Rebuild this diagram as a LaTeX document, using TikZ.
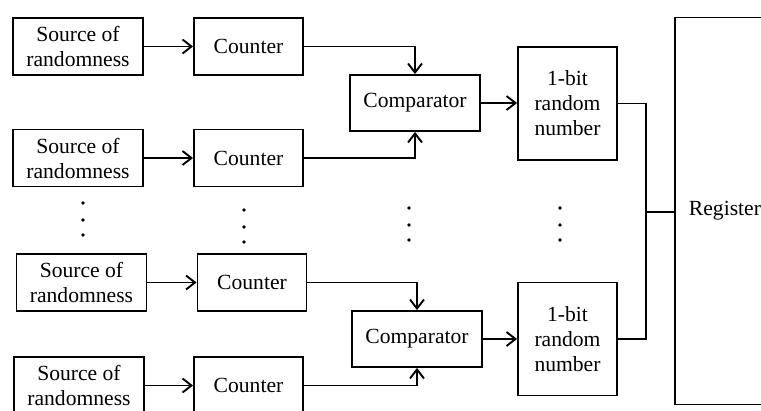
\documentclass[tikz,border=0pt]{standalone}
\usepackage{fontspec}
\setmainfont{Liberation Serif}
\usetikzlibrary{arrows.meta}
\tikzset{
    block-box/.style = {draw, line width=1.9pt, rectangle, align=center, inner sep=0pt, minimum height=57pt, font=\fontsize{21.6pt}{25pt}\selectfont},
    source-box/.style = {block-box, minimum width=130pt},
    counter-box/.style = {block-box, minimum width=109pt},
    comparator-box/.style = {block-box, minimum width=130pt, minimum height=56pt},
    bit-box/.style = {block-box, minimum width=99pt, minimum height=113pt},
    register-box/.style = {block-box, minimum width=130pt, minimum height=387pt, inner xsep=14pt, text width=102pt, align=left, anchor=west},
    wire/.style = {line width=1.9pt},
    arrow-line/.style = {wire, -{Straight Barb[length=9pt, width=14pt, line width=1.9pt]}},
}
\begin{document}
\begin{tikzpicture}[x=1pt, y=-1pt]
\useasboundingbox (0,0) rectangle (761,410);
\node[source-box] (src1) at (78,46.5) {Source of\\randomness};
\node[source-box] (src2) at (78,158) {Source of\\randomness};
\node[source-box] (src3) at (81.5,282.5) {Source of\\randomness};
\node[source-box] (src4) at (79,385.5) {Source of\\randomness};
\node[counter-box] (cnt1) at (248.5,46.5) {Counter};
\node[counter-box] (cnt2) at (248.5,158) {Counter};
\node[counter-box] (cnt3) at (252,282.5) {Counter};
\node[counter-box] (cnt4) at (248.5,385.5) {Counter};
\node[comparator-box] (cmp1) at (415,103) {Comparator};
\node[comparator-box] (cmp2) at (417,339) {Comparator};
\node[bit-box] (bit1) at (567.5,103.5) {1-bit\\random\\number};
\node[bit-box] (bit2) at (567.5,339) {1-bit\\random\\number};
\node[register-box] (reg) at (674,211) {Register};
\coordinate (join) at (646,212);
\foreach \i in {1,...,4}
    \draw[arrow-line] (src\i.east) -- (src\i.east -| cnt\i.west);
\draw[arrow-line] (cnt1.east) -| (cmp1.north);
\draw[arrow-line] (cnt2.east) -| (cmp1.south);
\draw[arrow-line] (cnt3.east) -| (cmp2.north);
\draw[arrow-line] (cnt4.east) -| (cmp2.south);
\draw[arrow-line] (cmp1.east) -- (cmp1.east -| bit1.west);
\draw[arrow-line] (cmp2.east) -- (cmp2.east -| bit2.west);
\draw[wire] (bit1.east) -| (join) |- (bit2.east);
\draw[wire] (join) -- (join -| reg.west);
\foreach \x/\y in {83/203, 83/220, 83/235, 244/210, 244/227, 244/242, 409/208, 409/225, 409/240, 560/208, 560/225, 560/240}
    \fill (\x,\y) circle (1.9pt);
\end{tikzpicture}
\end{document}
